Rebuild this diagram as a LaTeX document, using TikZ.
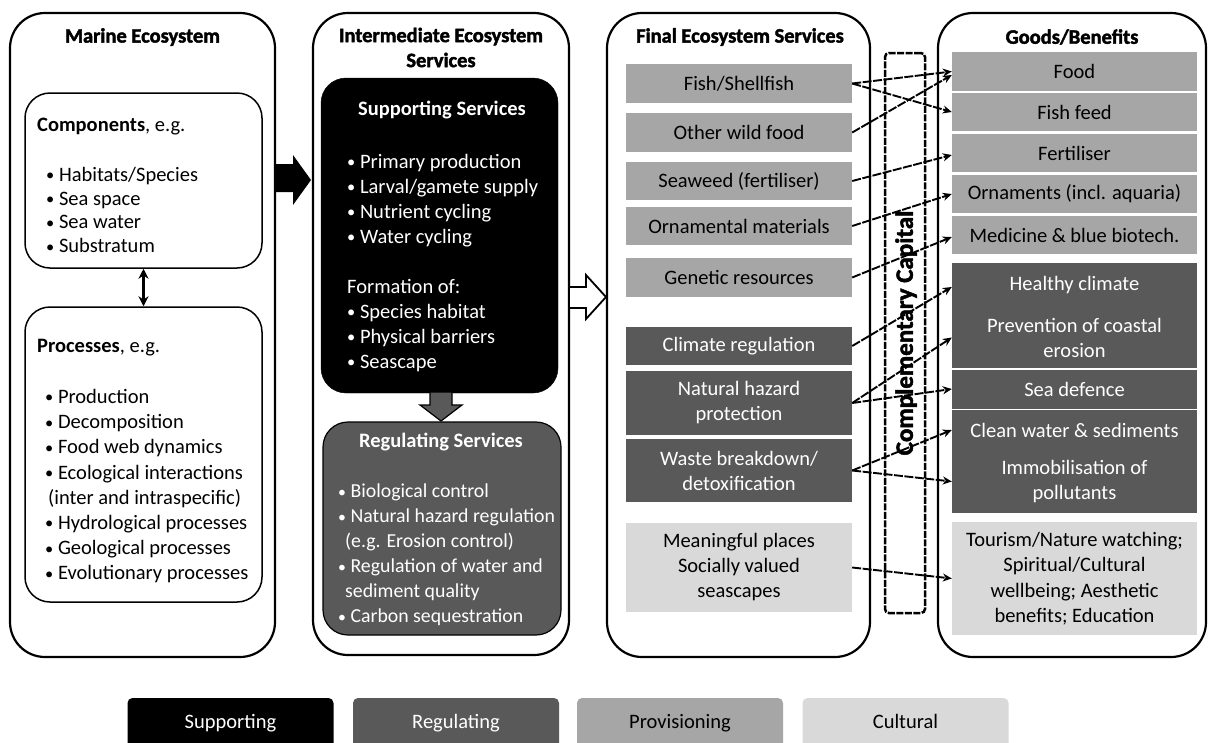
\documentclass[tikz,border=0pt]{standalone}
\usepackage{fontspec}
\setmainfont{Carlito}
\newfontfamily\heavy{Carlito}[BoldFeatures={FakeBold=2}]
\usetikzlibrary{arrows.meta}
\definecolor{prov}{HTML}{A6A6A6}
\definecolor{regc}{HTML}{595959}
\definecolor{cult}{HTML}{D9D9D9}
\newcommand{\bul}{\raisebox{0.5pt}{\scalebox{0.8}{•}}\ }
\begin{document}
\begin{tikzpicture}[x=1pt,y=-1pt,
  every node/.style={font=\fontsize{20.5}{25}\selectfont, inner sep=0pt},
  bigbox/.style={draw=black, line width=2.2pt, rounded corners=35pt, fill=white},
  subbox/.style={draw=black, line width=1.5pt, rounded corners=25pt, fill=white, minimum width=237pt},
  hdr/.style={font=\heavy\bfseries\fontsize{20.5}{25}\selectfont, align=center},
  lst/.style={anchor=north west, align=left},
  fsvc/.style={minimum width=226pt, align=center, fill=prov},
  gsvc/.style={minimum width=245pt, align=center, fill=prov},
  conn/.style={line width=1.9pt, dash pattern=on 9pt off 1.5pt, -{Stealth[open, length=9pt, width=8pt]}},
  legbox/.style={rounded corners=5pt, minimum width=206pt, minimum height=50pt, text height=14pt, text depth=4pt},
]
\useasboundingbox (0,0) rectangle (1208,742);
\fill[white] (0,0) rectangle (1208,742);

% big columns
\node[bigbox, minimum width=265pt, minimum height=644pt] (marine) at (142.5,335) {};
\node[bigbox, minimum width=256pt, minimum height=642pt] (inter) at (441,334) {};
\node[bigbox, minimum width=263pt, minimum height=644pt] (final) at (738.5,335) {};
\node[bigbox, minimum width=268pt, minimum height=644pt] (goods) at (1072,335) {};

% headers
\node[hdr] (hmarine) at (142.5,37) {Marine Ecosystem};
\node[hdr] (hinter) at (441,47.5) {Intermediate Ecosystem\\Services};
\node[hdr] (hfinal) at (740,37) {Final Ecosystem Services};
\node[hdr] (hgoods) at (1072,37) {Goods/Benefits};

% marine ecosystem
\node[subbox, minimum height=175pt] (compbox) at (143.5,180.5) {};
\node[subbox, minimum height=295pt] (procbox) at (143.5,454.5) {};
\draw[line width=2.2pt, {Stealth[length=10pt,width=10pt]}-{Stealth[length=10pt,width=10pt]}] (compbox.south) -- (procbox.north);
\node[anchor=west] (comph) at (37,127) {\textbf{Components}, e.g.};
\node[lst, font=\fontsize{20.5}{23.7}\selectfont] (compl) at (46,167) {\bul Habitats/Species\\\bul Sea space\\\bul Sea water\\\bul Substratum};
\node[anchor=west] (proch) at (37,348) {\textbf{Processes}, e.g.};
\node[lst, font=\fontsize{20.5}{25.2}\selectfont] (procl) at (45,389) {\bul Production\\\bul Decomposition\\\bul Food web dynamics\\\bul Ecological interactions\\\hspace{3pt}(inter and intraspecific)\\\bul Hydrological processes\\\bul Geological processes\\\bul Evolutionary processes};

% black arrow
\fill[black] (274,164) -- (293,164) -- (293,155) -- (311,180) -- (293,205) -- (293,192) -- (274,192) -- cycle;

% intermediate
\node[draw=black, fill=black, rounded corners=25pt, minimum width=237pt, minimum height=315pt] (sup) at (439.5,235.5) {};
\node[font=\bfseries\fontsize{20.5}{25}\selectfont, text=white] (suph) at (442,110) {Supporting Services};
\node[lst, text=white] (supl) at (347,154) {\bul Primary production\\\bul Larval/gamete supply\\\bul Nutrient cycling\\\bul Water cycling\\[25pt]Formation of:\\\bul Species habitat\\\bul Physical barriers\\\bul Seascape};
\draw[line width=1.2pt, fill=regc, line join=miter] (430,392) -- (452,392) -- (452,405) -- (462,405) -- (441,421) -- (420,405) -- (430,405) -- cycle;
\node[draw=black, line width=1.2pt, fill=regc, rounded corners=25pt, minimum width=238pt, minimum height=213pt] (reg) at (442,528.5) {};
\node[font=\bfseries\fontsize{20.5}{25}\selectfont, text=white] (regh) at (441,442) {Regulating Services};
\node[lst, text=white, font=\fontsize{19.8}{25}\selectfont] (regl) at (338,484) {\bul Biological control\\\bul Natural hazard regulation\\\hspace{7pt}(e.g. Erosion control)\\\bul Regulation of water and\\\hspace{7pt}sediment quality\\\bul Carbon sequestration};

% white arrow
\draw[line width=1.8pt, fill=white, line join=miter] (569,287) -- (586,287) -- (586,275) -- (606,297) -- (586,319) -- (586,308) -- (569,308) -- cycle;

% final services
\node[fsvc, minimum height=39pt] (f1) at (739,83.5) {Fish/Shellfish};
\node[fsvc, minimum height=39pt] (f2) at (739,132.5) {Other wild food};
\node[fsvc, minimum height=38pt] (f3) at (739,181) {Seaweed (fertiliser)};
\node[fsvc, minimum height=38pt] (f4) at (739,226) {Ornamental materials};
\node[fsvc, minimum height=39pt] (f5) at (739,277.5) {Genetic resources};
\node[fsvc, fill=regc, text=white, minimum height=38pt] (f6) at (739,346) {Climate regulation};
\node[fsvc, fill=regc, text=white, minimum height=64pt] (f7) at (739,403) {Natural hazard\\protection};
\node[fsvc, fill=regc, text=white, minimum height=63pt] (f8) at (739,470.5) {Waste breakdown/\\detoxification};
\node[fsvc, fill=cult, minimum height=89pt] (f9) at (739,567.5) {Meaningful places\\Socially valued\\seascapes};

% complementary capital
\node[draw=black, line width=2.5pt, dash pattern=on 7pt off 1.5pt, rounded corners=4pt, minimum width=40pt, minimum height=560pt] (cc) at (905,333) {};
\node[rotate=90, font=\heavy\bfseries\fontsize{25}{27}\selectfont] (cctext) at (906,333) {Complementary Capital};

% goods
\node[gsvc, minimum height=39pt] (g1) at (1074.5,71.5) {Food};
\node[gsvc, minimum height=38pt] (g2) at (1074.5,112) {Fish feed};
\node[gsvc, minimum height=38pt] (g3) at (1074.5,153) {Fertiliser};
\node[gsvc, minimum height=38pt] (g4) at (1074.5,194) {Ornaments (incl. aquaria)};
\node[gsvc, minimum height=38pt] (g5) at (1074.5,235) {Medicine \& blue biotech.};
\node[gsvc, fill=regc, text=white, minimum height=44pt] (g6) at (1074.5,285) {Healthy climate};
\node[gsvc, fill=regc, text=white, minimum height=61pt] (g7) at (1074.5,337.5) {Prevention of coastal\\erosion};
\node[gsvc, fill=regc, text=white, minimum height=39pt] (g8) at (1074.5,389) {Sea defence};
\node[gsvc, fill=regc, text=white, minimum height=40pt] (g9) at (1074.5,430) {Clean water \& sediments};
\node[gsvc, fill=regc, text=white, minimum height=63pt] (g10) at (1074.5,481.5) {Immobilisation of\\pollutants};
\node[gsvc, fill=cult, minimum height=113pt, font=\fontsize{20.5}{25.5}\selectfont] (g11) at (1074.5,578.5) {Tourism/Nature watching;\\Spiritual/Cultural\\wellbeing; Aesthetic\\benefits; Education};

% connectors
\draw[conn] (f1.east) -- (g1.west);
\draw[conn] (f1.east) -- (g2.west);
\draw[conn] (f2.east) -- ([yshift=-3.5pt]g1.west);
\draw[conn] (f3.east) -- ([yshift=-2pt]g3.west);
\draw[conn] (f4.east) -- (g4.west);
\draw[conn] (f5.east) -- ([yshift=-2pt]g5.west);
\draw[conn] (f6.east) -- ([yshift=-2pt]g6.west);
\draw[conn] (f7.east) -- (g7.west);
\draw[conn] (f7.east) -- (g8.west);
\draw[conn] (f8.east) -- (g9.west);
\draw[conn] (f8.east) -- (g10.west);
\draw[conn] (f9.east) -- (g11.west);

% legend
\node[legbox, fill=black, text=white] (lsup) at (230.5,723) {Supporting};
\node[legbox, fill=regc, text=white] (lreg) at (456,723) {Regulating};
\node[legbox, fill=prov] (lprov) at (680,723) {Provisioning};
\node[legbox, fill=cult] (lcult) at (905.5,723) {Cultural};
\end{tikzpicture}
\end{document}
